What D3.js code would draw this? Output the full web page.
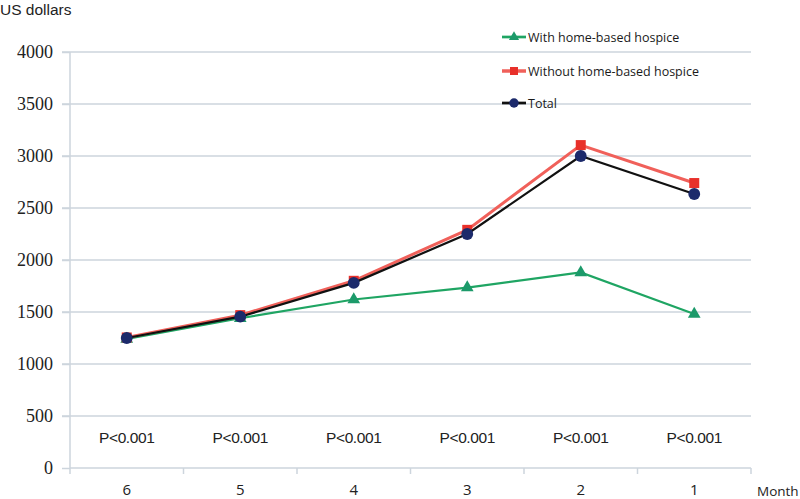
<!DOCTYPE html>
<html>
<head>
<meta charset="utf-8">
<script src="https://cdn.jsdelivr.net/npm/d3@7"></script>
<style>
  body { margin: 0; background: #fff; }
  svg { display: block; }
</style>
</head>
<body>
<svg width="800" height="499"></svg>
<script>
const months = ["6", "5", "4", "3", "2", "1"];
const withHospice = [1240, 1440, 1620, 1735, 1880, 1480];
const withoutHospice = [1255, 1470, 1800, 2290, 3105, 2740];
const total = [1250, 1455, 1780, 2250, 3000, 2635];
const pValues = ["P<0.001", "P<0.001", "P<0.001", "P<0.001", "P<0.001", "P<0.001"];
const yTicks = [0, 500, 1000, 1500, 2000, 2500, 3000, 3500, 4000];

const svg = d3.select("svg");
const gridColor = "#cdd5dd";

const x = d3.scaleBand().domain(months).range([70, 751]);
const y = d3.scaleLinear().domain([0, 4000]).range([468, 52]);

// grid
svg.append("g")
  .selectAll("line.grid")
  .data(yTicks.filter(d => d > 0))
  .join("line")
  .classed("grid", true)
  .attr("x1", 62)
  .attr("x2", 751)
  .attr("y1", d => y(d))
  .attr("y2", d => y(d))
  .attr("stroke", gridColor)
  .attr("stroke-width", 1.5);

// y axis
const yAxis = svg.append("g")
  .attr("transform", "translate(70,0)")
  .call(d3.axisLeft(y).tickValues(yTicks).tickSize(8).tickPadding(9).tickFormat(d3.format("d")));
yAxis.selectAll("line, path").attr("stroke", gridColor).attr("stroke-width", 1.5);
yAxis.select("path").attr("d", "M0,52V468");
yAxis.selectAll("text")
  .attr("font-family", "Liberation Serif, DejaVu Serif, serif")
  .attr("font-size", 18)
  .attr("fill", "#222");

// x axis
const xAxis = svg.append("g")
  .attr("transform", "translate(0,468)")
  .call(d3.axisBottom(x).tickSize(0).tickPadding(16));
xAxis.select("path").attr("d", "M70,0H751").attr("stroke", gridColor).attr("stroke-width", 1.5);
xAxis.selectAll("text")
  .attr("dy", "0.71em")
  .attr("font-family", "Open Sans, Liberation Sans, sans-serif")
  .attr("font-size", 15)
  .attr("fill", "#222");
svg.append("g")
  .selectAll("line.xt")
  .data(x.domain().concat(["end"]))
  .join("line")
  .attr("x1", (d, i) => 70 + i * x.bandwidth())
  .attr("x2", (d, i) => 70 + i * x.bandwidth())
  .attr("y1", 468)
  .attr("y2", 474)
  .attr("stroke", gridColor)
  .attr("stroke-width", 1.5);

// p values
svg.append("g")
  .selectAll("text")
  .data(pValues)
  .join("text")
  .attr("x", (d, i) => x(months[i]) + x.bandwidth() / 2)
  .attr("y", 443)
  .attr("text-anchor", "middle")
  .attr("font-family", "Liberation Sans, Arial, sans-serif")
  .attr("font-size", 15.5)
  .attr("letter-spacing", -0.4)
  .attr("fill", "#222")
  .text(d => d);

// titles
svg.append("text")
  .attr("x", 0)
  .attr("y", 15)
  .attr("font-family", "Liberation Sans, Arial, sans-serif")
  .attr("font-size", 15.5)
  .attr("fill", "#222")
  .text("US dollars");
svg.append("text")
  .attr("x", 757)
  .attr("y", 496)
  .attr("font-family", "Open Sans, Liberation Sans, sans-serif")
  .attr("font-size", 13.5)
  .attr("fill", "#222")
  .text("Month");

const cx = (d, i) => x(months[i]) + x.bandwidth() / 2;
const line = d3.line().x(cx).y(d => y(d));

// series
const series = [
  { name: "With home-based hospice", values: withHospice, color: "#1fa563", width: 2.2, marker: "triangle", mcolor: "#1c9a6a" },
  { name: "Without home-based hospice", values: withoutHospice, color: "#f0605a", width: 3, marker: "square", mcolor: "#e8302a" },
  { name: "Total", values: total, color: "#111", width: 2.2, marker: "circle", mcolor: "#1c2a6b" }
];

function markerPath(type) {
  if (type === "triangle") return d3.symbol(d3.symbolTriangle, 70)();
  if (type === "square") return d3.symbol(d3.symbolSquare, 100)();
  return d3.symbol(d3.symbolCircle, 110)();
}

series.forEach(s => {
  const g = svg.append("g");
  g.append("path")
    .datum(s.values)
    .attr("d", line)
    .attr("fill", "none")
    .attr("stroke", s.color)
    .attr("stroke-width", s.width);
  g.selectAll("path.m")
    .data(s.values)
    .join("path")
    .classed("m", true)
    .attr("d", markerPath(s.marker))
    .attr("transform", (d, i) => `translate(${cx(d, i)},${y(d)})`)
    .attr("fill", s.mcolor);
});

// legend
const legend = svg.append("g");
const legendY = [37, 71, 103];
series.forEach((s, i) => {
  const g = legend.append("g").attr("transform", `translate(502,${legendY[i]})`);
  g.append("line")
    .attr("x1", 0).attr("x2", 24)
    .attr("stroke", s.color).attr("stroke-width", s.width + 0.5);
  g.append("path")
    .attr("d", markerPath(s.marker))
    .attr("transform", "translate(12,0) scale(0.8)")
    .attr("fill", s.mcolor);
  g.append("text")
    .attr("x", 26)
    .attr("y", 4.5)
    .attr("font-family", "Open Sans, Liberation Sans, sans-serif")
    .attr("font-size", 12.5)
    .attr("fill", "#1a1a1a")
    .text(s.name);
});
</script>
</body>
</html>
